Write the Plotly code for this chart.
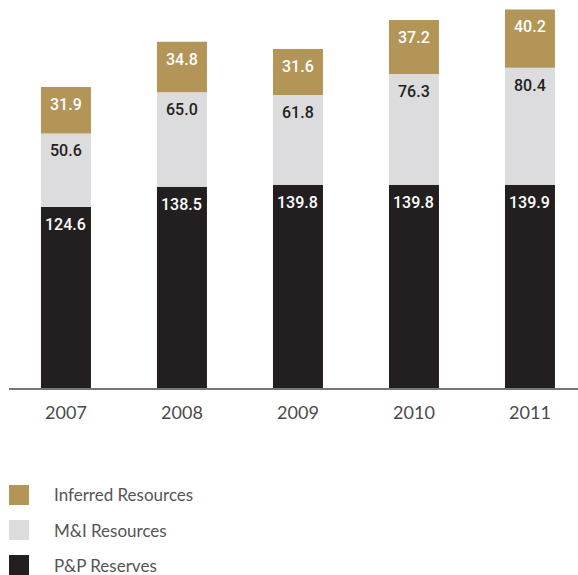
import plotly.graph_objects as go

years = ["2007", "2008", "2009", "2010", "2011"]
pp_reserves = [124.6, 138.5, 139.8, 139.8, 139.9]
mi_resources = [50.6, 65.0, 61.8, 76.3, 80.4]
inferred_resources = [31.9, 34.8, 31.6, 37.2, 40.2]

series = [
    ("P&P Reserves", pp_reserves, "#231F20", "#FFFFFF"),
    ("M&I Resources", mi_resources, "#DCDCDE", "#231F20"),
    ("Inferred Resources", inferred_resources, "#B39558", "#FFFFFF"),
]

W, H = 578, 575
ML, MR, MT, MB = 9, 0, 0, 187
PW, PH = W - ML - MR, H - MT - MB

xpos = list(range(len(years)))

fig = go.Figure()
annotations = []
base = [0.0] * len(years)
for name, vals, color, txtcolor in series:
    fig.add_trace(go.Bar(
        x=xpos, y=vals, base=base[:], name=name,
        marker=dict(color=color, line=dict(width=0)),
        width=0.431, showlegend=False, hoverinfo="skip",
    ))
    for i, v in enumerate(vals):
        top = base[i] + v
        annotations.append(dict(
            x=xpos[i], y=top, xref="x", yref="y", text=f"{v:.1f}",
            showarrow=False, yanchor="top", xanchor="center", yshift=-6,
            font=dict(family="Roboto", size=16, color=txtcolor, weight=500),
        ))
        base[i] = top


def px_to_paper(px, py):
    return (px - ML) / PW, (MT + PH - py) / PH


# custom legend: large swatches with labels
shapes = []
legend_rows = [("Inferred Resources", "#B39558", 495),
               ("M&I Resources", "#DCDCDE", 530),
               ("P&P Reserves", "#231F20", 565)]
for label, color, cy in legend_rows:
    x0, y0 = px_to_paper(9, cy + 10)
    x1, y1 = px_to_paper(29, cy - 10)
    shapes.append(dict(type="rect", xref="paper", yref="paper",
                       x0=x0, x1=x1, y0=y0, y1=y1,
                       fillcolor=color, line=dict(width=0)))
    tx, ty = px_to_paper(52, cy)
    annotations.append(dict(x=tx, y=ty, xref="paper", yref="paper",
                            text=label, showarrow=False,
                            xanchor="left", yanchor="middle",
                            font=dict(family="Lato", size=17, color="#555555")))

fig.update_layout(
    width=W, height=H,
    margin=dict(l=ML, r=MR, t=MT, b=MB),
    paper_bgcolor="white", plot_bgcolor="white",
    barmode="overlay",
    xaxis=dict(
        tickmode="array", tickvals=xpos, ticktext=years,
        range=[-0.491, 4.414], showgrid=False, zeroline=False,
        showline=True, linecolor="#777777", linewidth=1.5,
        ticks="", ticklabelstandoff=8,
        tickfont=dict(family="Lato", size=18, color="#4a4a4a"),
    ),
    yaxis=dict(range=[0, 267], visible=False, showgrid=False, zeroline=False),
    annotations=annotations,
    shapes=shapes,
)

fig.write_html("out.html")
